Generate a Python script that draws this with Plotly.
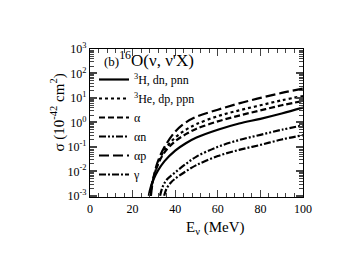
import plotly.graph_objects as go

# ---- data ----
E_3H = [27.6, 28.5, 30, 32, 35, 40, 45, 50, 60, 70, 80, 90, 100]
S_3H = [0.001, 0.0022, 0.005, 0.011, 0.026, 0.07, 0.14, 0.24, 0.5, 0.9, 1.4, 2.3, 4.0]

E_3He = [28.2, 29, 30, 32, 35, 40, 45, 50, 60, 70, 80, 90, 100]
S_3He = [0.001, 0.0025, 0.006, 0.022, 0.075, 0.24, 0.5, 0.85, 1.8, 3.1, 5.0, 8.0, 12.0]

E_a = [27.9, 28.8, 30, 32, 35, 40, 45, 50, 60, 70, 80, 90, 100]
S_a = [0.001, 0.0025, 0.006, 0.02, 0.06, 0.17, 0.33, 0.55, 1.1, 1.9, 3.1, 5.0, 7.5]

E_an = [32.9, 34, 36, 40, 45, 50, 60, 70, 80, 90, 100]
S_an = [0.001, 0.0022, 0.0045, 0.009, 0.02, 0.04, 0.1, 0.19, 0.31, 0.5, 0.75]

E_ap = [28.6, 29.5, 31, 33, 35, 40, 45, 50, 60, 70, 80, 90, 100]
S_ap = [0.001, 0.004, 0.015, 0.045, 0.1, 0.42, 1.0, 1.7, 3.3, 6.0, 10.0, 16.0, 24.0]

E_g = [34.8, 36, 38, 40, 45, 50, 60, 70, 80, 90, 100]
S_g = [0.001, 0.002, 0.0035, 0.005, 0.01, 0.018, 0.042, 0.075, 0.12, 0.2, 0.3]

names = ["<sup>3</sup>H, dn, pnn", "<sup>3</sup>He, dp, ppn", "α", "αn", "αp", "γ"]
panel_label = "<span style='font-size:13px'>(b)</span><sup>16</sup>O(ν, ν'X)"

x_ticks = [0, 20, 40, 60, 80, 100]
y_ticks = [1e-3, 1e-2, 1e-1, 1e0, 1e1, 1e2, 1e3]
y_ticktext = ["10<sup>-3</sup>", "10<sup>-2</sup>", "10<sup>-1</sup>", "10<sup>0</sup>",
              "10<sup>1</sup>", "10<sup>2</sup>", "10<sup>3</sup>"]
y_minor = [m * 10 ** e for e in range(-3, 3) for m in range(2, 10)]

series = [
    (E_3H, S_3H, "solid"),
    (E_3He, S_3He, "dot"),
    (E_a, S_a, "6px,3px"),
    (E_an, S_an, "7px,2px,2px,2px,2px,2px"),
    (E_ap, S_ap, "10px,4px"),
    (E_g, S_g, "7px,2px,2px,2px"),
]

FONT = "Liberation Serif, Times New Roman, serif"

fig = go.Figure()
for (x, y, dash), nm in zip(series, names):
    fig.add_trace(go.Scatter(x=x, y=y, mode="lines", name=nm,
                             line=dict(color="black", width=2.2, dash=dash, shape="spline")))

L, R, T, B = 82, 53, 41, 83
pw = 348 - L - R
ph = 272 - T - B


def px2paper(px, py):
    return (px - L) / pw, 1 - (py - T) / ph


lx, ly = px2paper(86, 57)
tx, ty = px2paper(94, 51)
xtx, xty = px2paper(239, 231)
ytx, yty = px2paper(38, 105)

fig.update_layout(
    width=348, height=272,
    margin=dict(l=L, r=R, t=T, b=B),
    paper_bgcolor="white", plot_bgcolor="white",
    font=dict(family=FONT, color="black", size=12),
    showlegend=True,
    legend=dict(
        x=lx, y=ly, xanchor="left", yanchor="top",
        bgcolor="rgba(0,0,0,0)",
        font=dict(family=FONT, size=12, color="black"),
        tracegroupgap=0,
        itemwidth=30,
    ),
    xaxis=dict(
        range=[0, 100], tickvals=x_ticks, ticks="inside", ticklen=7, tickwidth=1,
        showline=True, linecolor="black", linewidth=1.2, mirror="ticks",
        showgrid=False, zeroline=False,
        tickfont=dict(family=FONT, size=12),
        minor=dict(dtick=4, ticks="inside", ticklen=4, tickwidth=1, showgrid=False),
    ),
    yaxis=dict(
        type="log", range=[-3.05, 3.0],
        tickmode="array", tickvals=y_ticks, ticktext=y_ticktext,
        ticks="inside", ticklen=7, tickwidth=1.5,
        showline=True, linecolor="black", linewidth=1.2, mirror="ticks",
        showgrid=False, zeroline=False,
        tickfont=dict(family=FONT, size=12),
        minor=dict(tickmode="array", tickvals=y_minor, ticks="inside", ticklen=4,
                   tickwidth=1, showgrid=False),
    ),
    annotations=[
        dict(text=panel_label, x=tx, y=ty, xref="paper", yref="paper",
             xanchor="left", yanchor="middle", showarrow=False,
             font=dict(family=FONT, size=17)),
        dict(text="E<sub>ν</sub> (MeV)", x=xtx, y=xty, xref="paper", yref="paper",
             showarrow=False, font=dict(family=FONT, size=15)),
        dict(text="σ (10<sup>-42</sup> cm<sup>2</sup>)", x=ytx, y=yty, xref="paper", yref="paper",
             showarrow=False, textangle=-90, font=dict(family=FONT, size=15)),
    ],
)

fig.write_html("out.html")
